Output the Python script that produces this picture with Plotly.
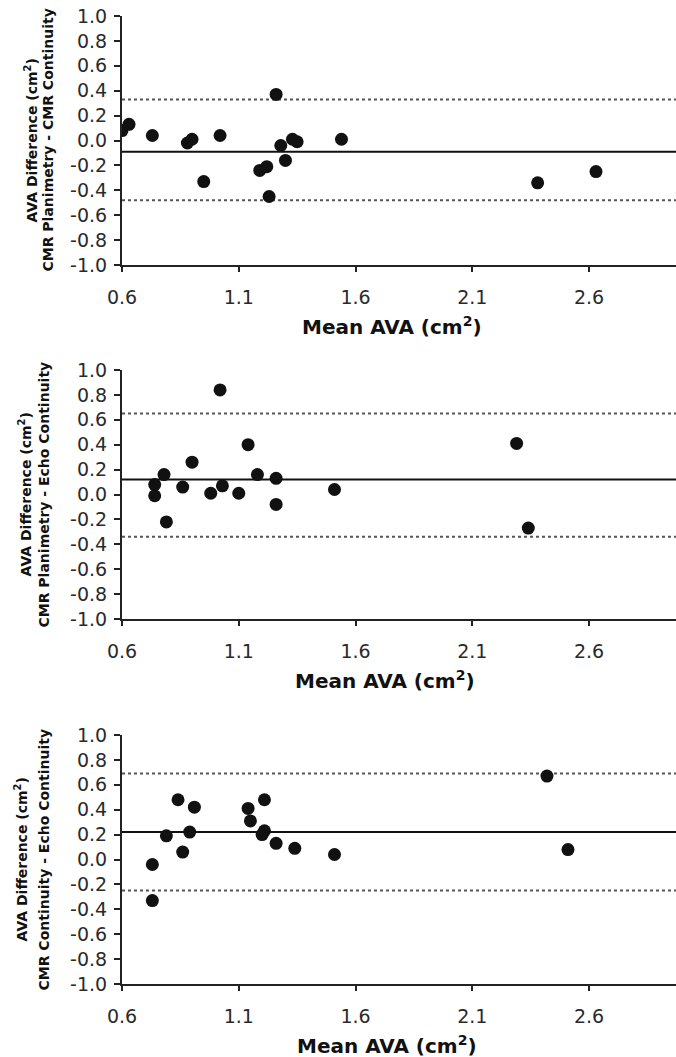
import plotly.graph_objects as go

# ---- Data: Bland-Altman comparisons of aortic valve area (AVA) ----
# Panel A: CMR planimetry vs CMR continuity
mean_a = [0.60, 0.63, 0.73, 0.88, 0.90, 0.95, 1.02, 1.19, 1.22, 1.23,
          1.26, 1.28, 1.30, 1.33, 1.35, 1.54, 2.38, 2.63]
diff_a = [0.08, 0.13, 0.04, -0.02, 0.01, -0.33, 0.04, -0.24, -0.21, -0.45,
          0.37, -0.04, -0.16, 0.01, -0.01, 0.01, -0.34, -0.25]
bias_a, upper_a, lower_a = -0.09, 0.33, -0.48

# Panel B: CMR planimetry vs echo continuity
mean_b = [0.74, 0.74, 0.78, 0.79, 0.86, 0.90, 0.98, 1.02, 1.03, 1.10,
          1.14, 1.18, 1.26, 1.26, 1.51, 2.29, 2.34]
diff_b = [0.08, -0.01, 0.16, -0.22, 0.06, 0.26, 0.01, 0.84, 0.07, 0.01,
          0.40, 0.16, 0.13, -0.08, 0.04, 0.41, -0.27]
bias_b, upper_b, lower_b = 0.12, 0.65, -0.34

# Panel C: CMR continuity vs echo continuity
mean_c = [0.73, 0.73, 0.79, 0.84, 0.86, 0.89, 0.91, 1.14, 1.15, 1.20,
          1.21, 1.21, 1.26, 1.34, 1.51, 2.42, 2.51]
diff_c = [-0.04, -0.33, 0.19, 0.48, 0.06, 0.22, 0.42, 0.41, 0.31, 0.20,
          0.23, 0.48, 0.13, 0.09, 0.04, 0.67, 0.08]
bias_c, upper_c, lower_c = 0.22, 0.69, -0.25

subtitles = ["CMR Planimetry - CMR Continuity",
             "CMR Planimetry - Echo Continuity",
             "CMR Continuity - Echo Continuity"]

x_tickvals = [0.6, 1.1, 1.6, 2.1, 2.6]
x_ticktext = ["0.6", "1.1", "1.6", "2.1", "2.6"]
y_tickvals = [-1.0, -0.8, -0.6, -0.4, -0.2, 0.0, 0.2, 0.4, 0.6, 0.8, 1.0]
y_ticktext = ["-1.0", "-0.8", "-0.6", "-0.4", "-0.2", "0.0",
              "0.2", "0.4", "0.6", "0.8", "1.0"]

# ---- Layout geometry (pixels) ----
W, H = 676, 1057
PLOT_LEFT = 122
PX_PER_UNIT = 233.5
X_MAX = 0.6 + (W - PLOT_LEFT) / PX_PER_UNIT

# (top, bottom) of each plot area, x-title centre, y-title line centres
panel_px = [
    dict(top=16, bottom=265, xt=392, yt1=31, yt2=47),
    dict(top=370, bottom=619, xt=385, yt1=25, yt2=43),
    dict(top=735, bottom=984, xt=387, yt1=21, yt2=43),
]


def fx(px):
    return px / W


def fy(py):
    return 1 - py / H


FONT = "DejaVu Sans, Verdana, sans-serif"
series = [
    (mean_a, diff_a, bias_a, upper_a, lower_a),
    (mean_b, diff_b, bias_b, upper_b, lower_b),
    (mean_c, diff_c, bias_c, upper_c, lower_c),
]

fig = go.Figure()
layout = dict(
    width=W, height=H,
    margin=dict(l=0, r=0, t=0, b=0),
    paper_bgcolor="white", plot_bgcolor="white",
    showlegend=False,
    template="none",
)
annotations = []
shapes = []

for i, ((xs, ys, bias, up, lo), p) in enumerate(zip(series, panel_px)):
    n = i + 1
    xa = "x" if n == 1 else f"x{n}"
    ya = "y" if n == 1 else f"y{n}"
    fig.add_trace(go.Scatter(
        x=xs, y=ys, mode="markers", xaxis=xa, yaxis=ya,
        marker=dict(color="#111111", size=13, line=dict(width=0)),
        hoverinfo="x+y",
    ))
    dom_y = [fy(p["bottom"]), fy(p["top"])]
    layout[f"xaxis{'' if n == 1 else n}"] = dict(
        domain=[fx(PLOT_LEFT), 1], anchor=ya, range=[0.6, X_MAX],
        showline=True, linecolor="#222", linewidth=2, mirror=False,
        ticks="outside", ticklen=5, tickwidth=1.5, tickcolor="#222",
        tickvals=x_tickvals, ticktext=x_ticktext,
        tickfont=dict(family=FONT, size=19, color="#2a2a2a"),
        ticklabelstandoff=9,
        showgrid=False, zeroline=False, automargin=False, fixedrange=True,
    )
    layout[f"yaxis{'' if n == 1 else n}"] = dict(
        domain=dom_y, anchor=xa, range=[-1.0, 1.0],
        showline=True, linecolor="#222", linewidth=2,
        ticks="outside", ticklen=6, tickwidth=1.5, tickcolor="#222",
        tickvals=y_tickvals, ticktext=y_ticktext,
        tickfont=dict(family=FONT, size=19, color="#2a2a2a"),
        ticklabelstandoff=3,
        showgrid=False, zeroline=False, automargin=False, fixedrange=True,
    )
    # mean difference and limits of agreement
    shapes.append(dict(type="line", xref=f"{xa} domain", yref=ya,
                       x0=0, x1=1, y0=bias, y1=bias, layer="below",
                       line=dict(color="#111", width=2)))
    for lim in (up, lo):
        shapes.append(dict(type="line", xref=f"{xa} domain", yref=ya,
                           x0=0, x1=1, y0=lim, y1=lim, layer="below",
                           line=dict(color="#555", width=2, dash="dot")))
    # x-axis title
    annotations.append(dict(
        text="Mean AVA (cm<sup>2</sup>)", xref="paper", yref="paper",
        x=fx(p["xt"]), y=fy(p["bottom"] + 61), xanchor="center",
        yanchor="middle", showarrow=False,
        font=dict(family=FONT, size=20, color="#111", weight="bold"),
    ))
    # two-line y-axis title
    ymid = fy((p["top"] + p["bottom"]) / 2)
    annotations.append(dict(
        text="AVA Difference (cm<sup>2</sup>)", xref="paper", yref="paper",
        x=fx(p["yt1"]), y=ymid, xanchor="center", yanchor="middle",
        textangle=-90, showarrow=False,
        font=dict(family=FONT, size=14, color="#111", weight="bold"),
    ))
    annotations.append(dict(
        text=subtitles[i], xref="paper", yref="paper",
        x=fx(p["yt2"]), y=ymid, xanchor="center", yanchor="middle",
        textangle=-90, showarrow=False,
        font=dict(family=FONT, size=14, color="#111", weight="bold"),
    ))

layout["annotations"] = annotations
layout["shapes"] = shapes
fig.update_layout(**layout)
fig.write_html("out.html")
